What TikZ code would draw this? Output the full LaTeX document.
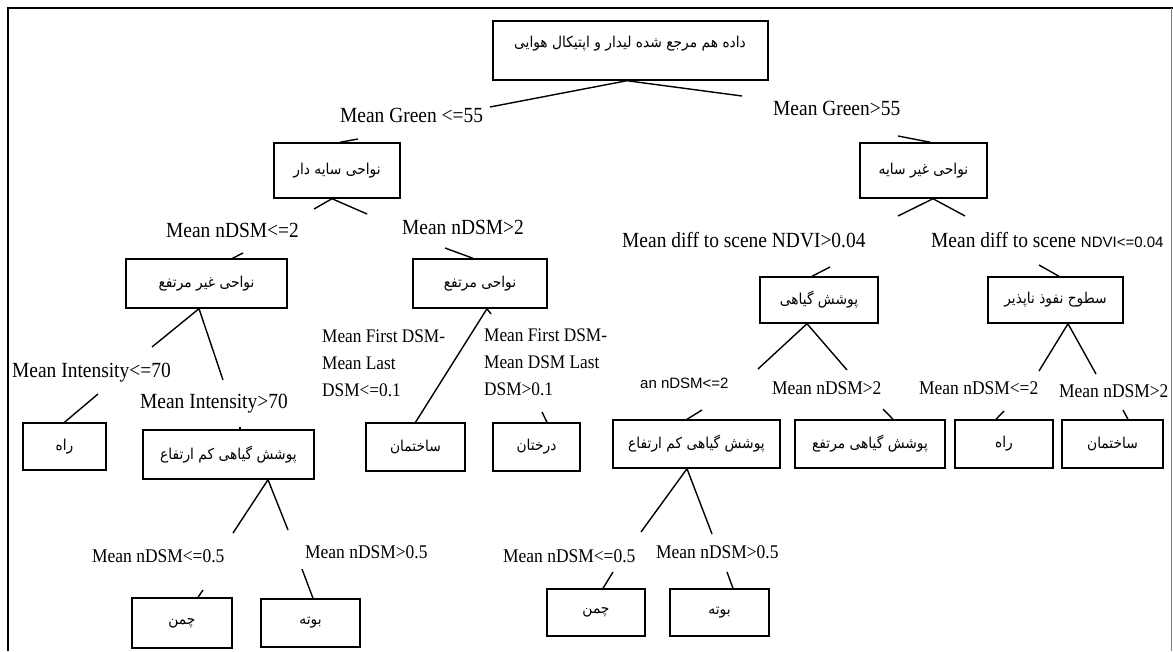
\documentclass[tikz,border=0pt]{standalone}
\usepackage{fontspec}
\setmainfont{Liberation Serif}[FakeStretch=0.9]
\newfontfamily\fa[Script=Arabic,FakeStretch=0.92]{DejaVu Sans}
\newfontfamily\lsans{Liberation Sans}
\TeXXeTstate=1
\newcommand\fatext[1]{{\fa\beginR #1\endR}}
\begin{document}
\begin{tikzpicture}[x=1pt,y=-1pt,
  box/.style={draw, line width=1.4pt, inner sep=0pt, font=\fontsize{15}{18}\selectfont},
  conn/.style={line width=1.4pt},
  lbl/.style={inner sep=0pt, anchor=west, text depth=0pt, font=\fontsize{21.6}{25}\selectfont},
  lbls/.style={inner sep=0pt, anchor=west, text depth=0pt, font=\fontsize{19.4}{23}\selectfont},
  lblm/.style={inner sep=0pt, anchor=north west, align=left, font=\fontsize{19.2}{27}\selectfont},
  lblsans/.style={inner sep=0pt, anchor=west, text depth=0pt, font=\lsans\fontsize{15}{18}\selectfont},
  fat/.style={inner sep=0pt, font=\fontsize{15}{18}\selectfont},
]
\useasboundingbox (0,0) rectangle (1173,651);
% frame
\draw[line width=2.4pt] (8,651) -- (8,8) -- (1173,8);
\draw[gray, line width=1pt] (1171.5,8) -- (1171.5,651);

% boxes
\node[box, minimum width=275pt, minimum height=59pt] (root) at (630.5,50.5) {};
\node[fat] (roottxt) at (630,44) {\fatext{داده هم مرجع شده لیدار و اپتیکال هوایی}};
\node[box, minimum width=126pt, minimum height=55pt] (A) at (337,170.5) {\fatext{نواحی سایه دار}};
\node[box, minimum width=127pt, minimum height=55pt] (E) at (923.5,170.5) {\fatext{نواحی غیر سایه}};
\node[box, minimum width=161pt, minimum height=49pt] (B) at (206.5,283.5) {\fatext{نواحی غیر مرتفع}};
\node[box, minimum width=134pt, minimum height=49pt] (D) at (480,283.5) {\fatext{نواحی مرتفع}};
\node[box, minimum width=118pt, minimum height=46pt] (F) at (819,300) {\fatext{پوشش گیاهی}};
\node[box, minimum width=135pt, minimum height=46pt] (G) at (1055.5,300) {\fatext{سطوح نفوذ ناپذیر}};
\node[box, minimum width=83pt, minimum height=47pt] (R1) at (64.5,446.5) {\fatext{راه}};
\node[box, minimum width=171pt, minimum height=49pt] (C) at (228.5,454.5) {\fatext{پوشش گیاهی کم ارتفاع}};
\node[box, minimum width=99pt, minimum height=48pt] (S1) at (415.5,447) {\fatext{ساختمان}};
\node[box, minimum width=87pt, minimum height=48pt] (T) at (536.5,447) {\fatext{درختان}};
\node[box, minimum width=167pt, minimum height=48pt] (H) at (696.5,444) {\fatext{پوشش گیاهی کم ارتفاع}};
\node[box, minimum width=150pt, minimum height=48pt] (I) at (870,444) {\fatext{پوشش گیاهی مرتفع}};
\node[box, minimum width=98pt, minimum height=48pt] (J) at (1004,444) {\fatext{راه}};
\node[box, minimum width=101pt, minimum height=48pt] (K) at (1112.5,444) {\fatext{ساختمان}};
\node[box, minimum width=100pt, minimum height=50pt] (L1) at (182,623) {\fatext{چمن}};
\node[box, minimum width=99pt, minimum height=48pt] (L2) at (310.5,623) {\fatext{بوته}};
\node[box, minimum width=98pt, minimum height=47pt] (M1) at (596,612.5) {\fatext{چمن}};
\node[box, minimum width=99pt, minimum height=47pt] (M2) at (719.5,612.5) {\fatext{بوته}};

% labels
\node[lbl] (g1) at (340,115) {Mean Green <=55};
\node[lbl] (g2) at (773,108) {Mean Green>55};
\node[lbl] (n1) at (166,230) {Mean nDSM<=2};
\node[lbl] (n2) at (402,227) {Mean nDSM>2};
\node[lbl] (d1) at (622,240) {Mean diff to scene NDVI>0.04};
\node[lbl] (d2) at (931,240) {Mean diff to scene {\lsans\fontsize{15}{18}\selectfont NDVI<=0.04}};
\node[lbl] (i1) at (12,370) {Mean Intensity<=70};
\node[lbl] (i2) at (140,401) {Mean Intensity>70};
\node[lblm] (f1) at (322,330) {Mean First DSM-\\Mean Last\\DSM<=0.1};
\node[lblm] (f2) at (484,329) {Mean First DSM-\\Mean DSM Last\\DSM>0.1};
\node[lblsans] (r1) at (640,383) {an nDSM<=2};
\node[lbls] (r2) at (772,388) {Mean nDSM>2};
\node[lbls] (r3) at (919,388) {Mean nDSM<=2};
\node[lbls] (r4) at (1059,391) {Mean nDSM>2};
\node[lbls] (b1) at (92,556) {Mean nDSM<=0.5};
\node[lbls] (b2) at (305,552) {Mean nDSM>0.5};
\node[lbls] (b3) at (503,556) {Mean nDSM<=0.5};
\node[lbls] (b4) at (656,552) {Mean nDSM>0.5};

% free ends of connector pieces
\coordinate (rl) at (490,107);
\coordinate (rr) at (742,96);
\coordinate (tA) at (358,139);
\coordinate (tE) at (898,136);
\coordinate (al) at (314,209);
\coordinate (ar) at (367,214);
\coordinate (el) at (898,216);
\coordinate (er) at (965,216);
\coordinate (tB) at (243,253);
\coordinate (tD) at (445,248);
\coordinate (tF) at (830,267);
\coordinate (tG) at (1039,265);
\coordinate (bl) at (152,347);
\coordinate (br) at (223,380);
\coordinate (dstub) at (491,314);
\coordinate (fl) at (758,369);
\coordinate (fr) at (847,370);
\coordinate (gl) at (1039,371);
\coordinate (gr) at (1096,374);
\coordinate (tR1) at (98,394);
\coordinate (tC) at (240,427);
\coordinate (tT) at (542,412);
\coordinate (tH) at (702,410);
\coordinate (tI) at (883,409);
\coordinate (tJ) at (1004,411);
\coordinate (tK) at (1123,410);
\coordinate (cl) at (233,533);
\coordinate (cr) at (288,530);
\coordinate (hl) at (641,532);
\coordinate (hr) at (712,534);
\coordinate (tL1) at (203,590);
\coordinate (tL2) at (302,569);
\coordinate (tM1) at (613,572);
\coordinate (tM2) at (727,572);

% connectors
\draw[conn] (rl) -- ([xshift=-3.5pt]root.south) -- (rr);
\draw[conn] ([xshift=3pt]A.north) -- (tA);
\draw[conn] ([xshift=7pt]E.north) -- (tE);
\draw[conn] (al) -- ([xshift=-5pt]A.south) -- (ar);
\draw[conn] (el) -- ([xshift=9.5pt]E.south) -- (er);
\draw[conn] ([xshift=26pt]B.north) -- (tB);
\draw[conn] ([xshift=-7pt]D.north) -- (tD);
\draw[conn] ([xshift=-7pt]F.north) -- (tF);
\draw[conn] ([xshift=3.5pt]G.north) -- (tG);
\draw[conn] (bl) -- ([xshift=-7.5pt]B.south) -- (br);
\draw[conn] ([xshift=7pt]D.south) -- (S1.north);
\draw[conn] ([xshift=7pt]D.south) -- (dstub);
\draw[conn] (fl) -- ([xshift=-12pt]F.south) -- (fr);
\draw[conn] (gl) -- ([xshift=12.5pt]G.south) -- (gr);
\draw[conn] (R1.north) -- (tR1);
\draw[conn] ([xshift=11.5pt]C.north) -- (tC);
\draw[conn] ([xshift=10.5pt]T.north) -- (tT);
\draw[conn] ([xshift=-9.5pt]H.north) -- (tH);
\draw[conn] ([xshift=23pt]I.north) -- (tI);
\draw[conn] ([xshift=-8pt]J.north) -- (tJ);
\draw[conn] ([xshift=15.5pt]K.north) -- (tK);
\draw[conn] (cl) -- ([xshift=39.5pt]C.south) -- (cr);
\draw[conn] (hl) -- ([xshift=-9.5pt]H.south) -- (hr);
\draw[conn] ([xshift=16pt]L1.north) -- (tL1);
\draw[conn] ([xshift=2.5pt]L2.north) -- (tL2);
\draw[conn] ([xshift=7pt]M1.north) -- (tM1);
\draw[conn] ([xshift=13.5pt]M2.north) -- (tM2);
\end{tikzpicture}
\end{document}
